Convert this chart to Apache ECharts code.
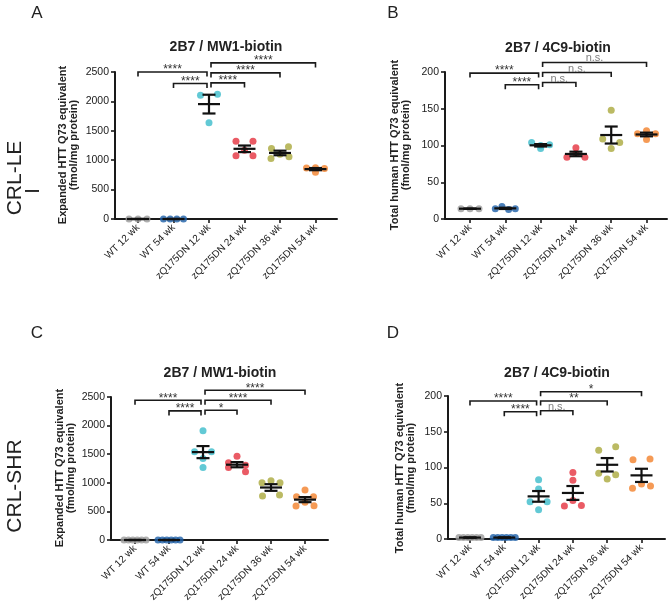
<!DOCTYPE html>
<html><head><meta charset="utf-8">
<script src="https://cdn.jsdelivr.net/npm/echarts@6/dist/echarts.min.js"></script>
<style>html,body{margin:0;padding:0;background:#fff}#c{width:672px;height:613px}</style>
</head><body><div id="c"></div>
<script>
// ---------- data ----------
const categories = ['WT 12 wk','WT 54 wk','zQ175DN 12 wk','zQ175DN 24 wk','zQ175DN 36 wk','zQ175DN 54 wk'];

// Panel A : CRL-LE, 2B7 / MW1-biotin
const aWT12 = [0,0,0];
const aWT54 = [0,0,0,0];
const aZQ12 = [2105,2122,1635];
const aZQ24 = [1324,1324,1170,1075,1075];
const aZQ36 = [1200,1228,1030,1100,1058];
const aZQ54 = [868,872,860,793];
const aTicks = [0,500,1000,1500,2000,2500];
const aSig = [[0,2,2500,'****'],[1,2,2304,'****'],[2,3,2315,'****'],[2,4,2485,'****'],[2,5,2655,'****']];

// Panel B : CRL-LE, 2B7 / 4C9-biotin
const bWT12 = [14,14,14];
const bWT54 = [14,17,13,14];
const bZQ12 = [104,100,101,96];
const bZQ24 = [84,89,84,97];
const bZQ36 = [148,109,104,96];
const bZQ54 = [116,120,116,108];
const bTicks = [0,50,100,150,200];
const bSig = [[0,2,198.5,'****'],[1,2,182.6,'****'],[2,3,185.7,'n.s.'],[2,4,199.3,'n.s.'],[2,5,213,'n.s.']];

// Panel C : CRL-SHR, 2B7 / MW1-biotin
const cWT12 = [0,0,0,0,0,0];
const cWT54 = [0,0,0,0,0,0];
const cZQ12 = [1908,1541,1541,1425,1268];
const cZQ24 = [1466,1349,1309,1268,1192];
const cZQ36 = [1000,1035,1000,768,785];
const cZQ54 = [873,756,756,593,658,599];
const cTicks = [0,500,1000,1500,2000,2500];
const cSig = [[0,2,2443,'****'],[1,2,2257,'****'],[2,3,2269,'*'],[2,4,2443,'****'],[2,5,2618,'****']];

// Panel D : CRL-SHR, 2B7 / 4C9-biotin
const dWT12 = [2,2,2,2,2,2];
const dWT54 = [2,2,2,2,2,2];
const dZQ12 = [83,70,52,52,41];
const dZQ24 = [93,82,54,46,47];
const dZQ36 = [124,129,92,90,84];
const dZQ54 = [111,112,71,77,74];
const dTicks = [0,50,100,150,200];
const dSig = [[0,2,193,'****'],[1,2,178,'****'],[2,3,179.4,'n.s.'],[2,4,193,'**'],[2,5,206,'*']];

// ---------- style / layout ----------
const FONT = '"Liberation Sans", Arial, sans-serif';
const colors = ['#9b9b9b','#1d5fa8','#3bbccb','#e5323e','#aaa93c','#f2812a'];
const panels = [
  {groups:[aWT12,aWT54,aZQ12,aZQ24,aZQ36,aZQ54], ticks:aTicks, sig:aSig,
   grid:{left:115, top:72, width:222, height:147}, xr:[-0.648,5.606]},
  {groups:[bWT12,bWT54,bZQ12,bZQ24,bZQ36,bZQ54], ticks:bTicks, sig:bSig,
   grid:{left:445, top:72, width:222, height:147}, xr:[-0.708,5.58]},
  {groups:[cWT12,cWT54,cZQ12,cZQ24,cZQ36,cZQ54], ticks:cTicks, sig:cSig,
   grid:{left:111, top:397, width:217, height:143}, xr:[-0.706,5.676]},
  {groups:[dWT12,dWT54,dZQ12,dZQ24,dZQ36,dZQ54], ticks:dTicks, sig:dSig,
   grid:{left:448, top:396, width:217, height:143}, xr:[-0.641,5.685]}
];

function spreadWidth(n){ return n<=1?0:({2:8.5,3:9,4:10,5:10.5}[n]||11); }

// beeswarm-like row layout (pixel offsets only)
function layoutGroup(vals, pxPerUnit){
  const idx = vals.map((v,i)=>i).sort((a,b)=>vals[b]-vals[a]);
  const rows = [];
  let cur = null;
  idx.forEach(i=>{
    if (cur && (vals[cur.anchor]-vals[i])*pxPerUnit < 4.5) cur.items.push(i);
    else { cur = {anchor:i, items:[i]}; rows.push(cur); }
  });
  const off = new Array(vals.length).fill(0);
  rows.forEach(r=>{
    const items = r.items.slice().sort((a,b)=>a-b);
    const n = items.length, w = spreadWidth(n);
    items.forEach((it,k)=>{ off[it] = n===1?0:(-w + 2*w*k/(n-1)); });
  });
  return off;
}
function mean(a){ return a.reduce((s,v)=>s+v,0)/a.length; }
function sem(a){ const m=mean(a); if(a.length<2) return 0;
  const sd=Math.sqrt(a.reduce((s,v)=>s+(v-m)*(v-m),0)/(a.length-1)); return sd/Math.sqrt(a.length); }

const grids=[], xAxes=[], yAxes=[], series=[];
panels.forEach((p,pi)=>{
  grids.push(Object.assign({containLabel:false}, p.grid));
  const ymax = p.ticks[p.ticks.length-1];
  const pxU = p.grid.height / ymax;
  xAxes.push({type:'value', gridIndex:pi, min:p.xr[0], max:p.xr[1],
    splitLine:{show:false},
    axisLine:{show:true, onZero:false, lineStyle:{color:'#1a1a1a', width:2}},
    axisTick:{show:true, length:4, customValues:[0,1,2,3,4,5], lineStyle:{color:'#1a1a1a', width:1.6}},
    axisLabel:{show:true, customValues:[0,1,2,3,4,5], rotate:45, margin:7,
      formatter:v=>categories[Math.round(v)], color:'#1a1a1a', fontSize:10, fontFamily:FONT}
  });
  yAxes.push({type:'value', gridIndex:pi, min:0, max:ymax, interval:p.ticks[1]-p.ticks[0],
    splitLine:{show:false},
    axisLine:{show:true, onZero:false, lineStyle:{color:'#1a1a1a', width:2}},
    axisTick:{show:true, length:4, lineStyle:{color:'#1a1a1a', width:1.6}},
    axisLabel:{margin:6, color:'#1a1a1a', fontSize:10.5, fontFamily:FONT,
      formatter:v=>String(v)}
  });
  // points
  const pts = [];
  p.groups.forEach((g,gi)=>{
    const off = layoutGroup(g, pxU);
    g.forEach((v,k)=>pts.push({value:[gi,v], symbolOffset:[off[k],0], itemStyle:{color:colors[gi]}}));
  });
  series.push({type:'scatter', xAxisIndex:pi, yAxisIndex:pi, data:pts, symbol:'circle',
    symbolSize:7, clip:false, silent:true, z:2});
  // mean +/- SEM
  const ms = p.groups.map((g,gi)=>[gi, mean(g), sem(g)]);
  series.push({type:'custom', xAxisIndex:pi, yAxisIndex:pi, data:ms, z:3, silent:true,
    encode:{x:0, y:1},
    renderItem:(params, api)=>{
      const x=api.value(0), m=api.value(1), s=api.value(2);
      const pm=api.coord([x,m]), pt=api.coord([x,m+s]), pb=api.coord([x,m-s]);
      const st={stroke:'#111', lineWidth:2.2, fill:null};
      return {type:'group', children:[
        {type:'line', shape:{x1:pm[0]-11,y1:pm[1],x2:pm[0]+11,y2:pm[1]}, style:st},
        {type:'line', shape:{x1:pm[0],y1:pt[1],x2:pm[0],y2:pb[1]}, style:st},
        {type:'line', shape:{x1:pm[0]-6.5,y1:pt[1],x2:pm[0]+6.5,y2:pt[1]}, style:st},
        {type:'line', shape:{x1:pm[0]-6.5,y1:pb[1],x2:pm[0]+6.5,y2:pb[1]}, style:st}
      ]};
    }
  });
  // significance brackets
  const sig = p.sig;
  series.push({type:'custom', xAxisIndex:pi, yAxisIndex:pi, z:4, silent:true,
    data:sig.map(s=>[s[0],s[1],s[2]]), encode:{x:[0,1], y:2},
    renderItem:(params, api)=>{
      const f=api.value(0), t=api.value(1), y=api.value(2);
      const a=api.coord([f,y]), b=api.coord([t,y]);
      let x1=a[0], x2=b[0];
      if (t===2) x2-=2; if (f===2) x1+=2;
      const yy=a[1];
      const lab=sig[params.dataIndex][3];
      const ns = lab==='n.s.';
      return {type:'group', children:[
        {type:'polyline', shape:{points:[[x1,yy+4.5],[x1,yy],[x2,yy],[x2,yy+4.5]]},
          style:{stroke:'#1a1a1a', lineWidth:1.6, fill:null}},
        {type:'text', style:{text:lab, x:(x1+x2)/2, y: ns? yy+1.5 : yy+4,
          textAlign:'center', align:'center', textVerticalAlign:'bottom', verticalAlign:'bottom',
          font: ns? ('11px '+FONT) : ('12px '+FONT), fill: ns?'#808080':'#333'}}
      ]};
    }
  });
});

function txt(text, x, y, font, opts){
  return Object.assign({type:'text', x:x, y:y, silent:true,
    style:{text:text, font:font, fill:'#222', textAlign:'center', align:'center',
      textVerticalAlign:'middle', verticalAlign:'middle'}}, opts||{});
}
const R = Math.PI/2;
const graphic = [
  txt('A', 37, 13, '17px '+FONT),
  txt('B', 393, 13, '17px '+FONT),
  txt('C', 37, 333, '17px '+FONT),
  txt('D', 393, 333, '17px '+FONT),
  txt('2B7 / MW1-biotin', 226, 47, 'bold 14px '+FONT),
  txt('2B7 / 4C9-biotin', 558, 48, 'bold 14px '+FONT),
  txt('2B7 / MW1-biotin', 220, 373, 'bold 14px '+FONT),
  txt('2B7 / 4C9-biotin', 557, 373, 'bold 14px '+FONT),
  txt('CRL-LE', 15, 178, '21px '+FONT, {rotation:R}),
  txt('I', 33, 191, '20px '+FONT, {rotation:R}),
  txt('CRL-SHR', 15, 486, '21px '+FONT, {rotation:R}),
  txt('Expanded HTT Q73 equivalent\n(fmol/mg protein)', 68, 145, 'bold 11px '+FONT, {rotation:R}),
  txt('Total human HTT Q73 equivalent\n(fmol/mg protein)', 400, 145, 'bold 11px '+FONT, {rotation:R}),
  txt('Expanded HTT Q73 equivalent\n(fmol/mg protein)', 65, 468, 'bold 11px '+FONT, {rotation:R}),
  txt('Total human HTT Q73 equivalent\n(fmol/mg protein)', 405, 468, 'bold 11px '+FONT, {rotation:R})
];

const chart = echarts.init(document.getElementById('c'), null, {renderer:'canvas'});
chart.setOption({animation:false, backgroundColor:'#fff', grid:grids, xAxis:xAxes, yAxis:yAxes,
  series:series, graphic:graphic});
</script></body></html>
